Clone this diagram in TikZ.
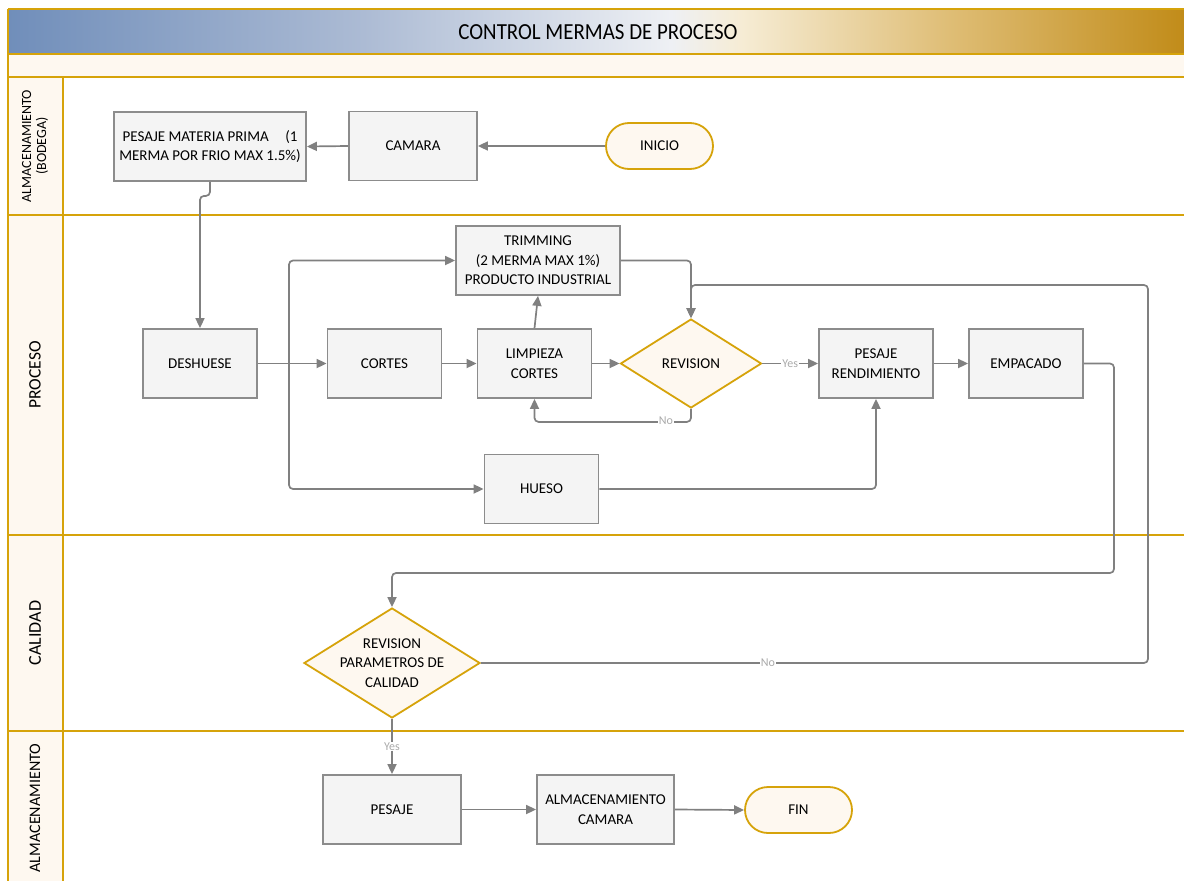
\documentclass[tikz,border=0pt]{standalone}
\usepackage{fontspec}
\usepackage{graphicx}
\setmainfont{Carlito}
\usetikzlibrary{arrows.meta,shapes.geometric}
\definecolor{gold}{RGB}{214,163,10}
\definecolor{cream}{RGB}{254,248,240}
\definecolor{boxfill}{RGB}{244,244,244}
\definecolor{boxgray}{RGB}{140,140,140}
\definecolor{lgray}{RGB}{128,128,128}
\definecolor{lblgray}{RGB}{170,170,170}
\definecolor{tblue}{RGB}{112,142,186}
\definecolor{tmid}{RGB}{172,187,212}
\definecolor{twhite}{RGB}{238,240,244}
\definecolor{tcream}{RGB}{246,236,212}
\definecolor{tgl}{RGB}{222,188,115}
\definecolor{tgold}{RGB}{192,138,22}
\pgfdeclarehorizontalshading{titleshade}{100bp}{color(0bp)=(tblue); color(25bp)=(tblue); color(40bp)=(tmid); color(53bp)=(twhite); color(56bp)=(tcream); color(65bp)=(tgl); color(75bp)=(tgold); color(100bp)=(tgold)}
\tikzset{
  proc/.style={draw=boxgray, line width=1.8pt, fill=boxfill, minimum width=114pt, minimum height=69pt, align=center, inner sep=2pt},
  term/.style={draw=gold, line width=1.8pt, fill=cream, rounded corners=23pt, minimum width=107pt, minimum height=46pt},
  dec/.style={diamond, draw=gold, line width=1.8pt, fill=cream, inner sep=0pt},
  dectext/.style={align=center, inner sep=0pt},
  conn/.style={draw=lgray, line width=1.7pt, -{Triangle[length=10pt,width=9pt]}},
  lbl/.style={fill=white, text=lblgray, font=\fontsize{12}{12}\selectfont, inner sep=1pt},
  lane/.style={draw=gold, line width=2.5pt},
  lanetxt/.style={rotate=90, align=center, text=black}
}
\begin{document}
\begin{tikzpicture}[x=1pt, y=-1pt, font=\fontsize{15}{19.5}\selectfont]
\useasboundingbox (0,0) rectangle (1184,881);
\fill[white] (0,0) rectangle (1184,881);
% title bar and header row
\shade[shading=titleshade] (8,9) rectangle (1192,54);
\fill[cream] (8,54) rectangle (1192,77);
\fill[cream] (8,77) rectangle (63,890);
\draw[lane] (8,9) -- (1192,9);
\draw[lane] (8,54) -- (1192,54);
\draw[lane] (8,77) -- (1192,77);
\draw[lane] (8,215) -- (1192,215);
\draw[lane] (8,535) -- (1192,535);
\draw[lane] (8,731) -- (1192,731);
\draw[lane] (8,9) -- (8,890);
\draw[lane] (63,77) -- (63,890);
\node (title) at (598,32) {\fontsize{23}{26}\selectfont\scalebox{0.91}[1]{CONTROL MERMAS DE PROCESO}};
% lane labels
\node[lanetxt, font=\fontsize{14}{15}\selectfont] (l1) at (35,146) {ALMACENAMIENTO\\(BODEGA)};
\node[lanetxt, font=\fontsize{17.5}{20}\selectfont] (l2) at (35,375) {PROCESO};
\node[lanetxt, font=\fontsize{18}{20}\selectfont] (l3) at (35,633) {CALIDAD};
\node[lanetxt, font=\fontsize{16}{18}\selectfont] (l4) at (35,808) {ALMACENAMIENTO};
% nodes
\node[proc, minimum width=192pt] (pm) at (210,146.5) {PESAJE MATERIA PRIMA\hspace{1.1em}(1\\MERMA POR FRIO MAX 1.5\%)};
\node[proc, minimum width=128pt] (cam) at (413,146) {CAMARA};
\node[term] (ini) at (659.5,146) {INICIO};
\node[proc] (des) at (200,363.5) {DESHUESE};
\node[proc] (cor) at (384.5,363.5) {CORTES};
\node[proc] (lim) at (534.5,363.5) {LIMPIEZA\\CORTES};
\node[proc, minimum width=164pt] (trim) at (538,260.5) {TRIMMING\\(2 MERMA MAX 1\%)\\PRODUCTO INDUSTRIAL};
\node[dec, minimum width=141pt, minimum height=89pt] (rev) at (691,363.5) {};
\node[dectext] (revt) at (rev.center) {REVISION};
\node[proc] (pr) at (876,363.5) {PESAJE\\RENDIMIENTO};
\node[proc] (emp) at (1026,363.5) {EMPACADO};
\node[proc] (hue) at (541.5,489) {HUESO};
\node[dec, minimum width=176pt, minimum height=110pt] (rp) at (392,663) {};
\node[dectext] (rpt) at (rp.center) {REVISION\\PARAMETROS DE\\CALIDAD};
\node[proc, minimum width=138pt] (pes) at (392,809.5) {PESAJE};
\node[proc, minimum width=137pt] (alm) at (605.5,809.5) {ALMACENAMIENTO\\CAMARA};
\node[term] (fin) at (798.5,810) {FIN};
% connectors
\draw[conn] (ini.west) -- (cam.east);
\draw[conn] (cam.west) -- (pm.east);
\draw[conn, rounded corners=4pt] (pm.south) -- ++(0,14) -| (des.north);
\coordinate (j1) at (289,363.5);
\draw[conn] (des.east) -- (cor.west);
\draw[conn, rounded corners=4pt] (j1) |- (trim.west);
\draw[conn, rounded corners=4pt] (j1) |- (hue.west);
\draw[conn] (cor.east) -- (lim.west);
\draw[conn] (lim.north) -- (trim.south);
\draw[conn] (lim.east) -- (rev.west);
\draw[conn, rounded corners=4pt] (trim.east) -| (rev.north);
\draw[conn, rounded corners=4pt] (rev.south) -- ++(0,13) -| (lim.south);
\node[lbl] (no1) at (666,421) {No};
\draw[conn] (rev.east) -- node[lbl] (yes1) {Yes} (pr.west);
\draw[conn, rounded corners=4pt] (hue.east) -| (pr.south);
\draw[conn] (pr.east) -- (emp.west);
\draw[conn, rounded corners=4pt] (emp.east) -- (1114,363.5) -- (1114,573) -- (392,573) -- (rp.north);
\draw[conn, rounded corners=4pt] (rp.east) -- (1148,663) -- (1148,285) -- (691,285) -- (rev.north);
\node[lbl] (no2) at (768,663) {No};
\draw[conn] (rp.south) -- node[lbl] (yes2) {Yes} (pes.north);
\draw[conn] (pes.east) -- (alm.west);
\draw[conn] (alm.east) -- (fin.west);
\end{tikzpicture}
\end{document}
